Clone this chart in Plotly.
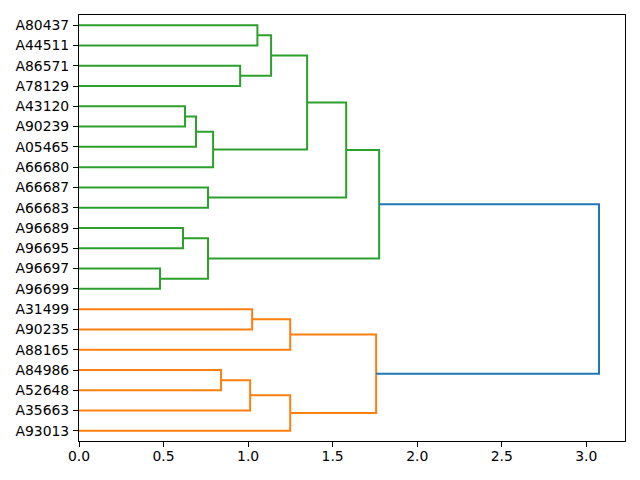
import plotly.graph_objects as go

# Leaf labels, top to bottom as shown
leaves_top_to_bottom = [
    "A80437", "A44511", "A86571", "A78129", "A43120", "A90239", "A05465",
    "A66680", "A66687", "A66683", "A96689", "A96695", "A96697", "A96699",
    "A31499", "A90235", "A88165", "A84986", "A52648", "A35663", "A93013",
]

# Merges: (left child, right child, distance, cluster)
merge_left = ["A80437", "A86571", "m1", "A43120", "m4", "m5", "m3", "A66687", "m7",
              "A96689", "A96697", "m10", "m9", "A31499", "m14", "A84986", "m16",
              "m17", "m15", "m13"]
merge_right = ["A44511", "A78129", "m2", "A90239", "A05465", "A66680", "m6", "A66683",
               "m8", "A96695", "A96699", "m11", "m12", "A90235", "A88165", "A52648",
               "A35663", "A93013", "m18", "m19"]
merge_height = [1.055, 0.953, 1.136, 0.627, 0.692, 0.793, 1.349, 0.763, 1.580,
                0.615, 0.479, 0.763, 1.775, 1.024, 1.249, 0.840, 1.012, 1.249,
                1.757, 3.075]
merge_cluster = ["g"] * 13 + ["o"] * 6 + ["root"]

colors = {"g": "#2ca02c", "o": "#ff7f0e", "root": "#1f77b4"}

n = len(leaves_top_to_bottom)
leaves_bottom_up = leaves_top_to_bottom[::-1]
pos = {name: 5 + 10 * i for i, name in enumerate(leaves_bottom_up)}
hgt = {name: 0.0 for name in leaves_bottom_up}

segs = {k: ([], []) for k in colors}
for i, (a, b, h, c) in enumerate(zip(merge_left, merge_right, merge_height, merge_cluster)):
    name = f"m{i + 1}"
    ya, yb = pos[a], pos[b]
    xs = [hgt[a], h, h, hgt[b], None]
    ys = [ya, ya, yb, yb, None]
    segs[c][0].extend(xs)
    segs[c][1].extend(ys)
    pos[name] = (ya + yb) / 2
    hgt[name] = h

fig = go.Figure()
for c in ["g", "o", "root"]:
    fig.add_trace(go.Scatter(
        x=segs[c][0], y=segs[c][1], mode="lines",
        line=dict(color=colors[c], width=2), hoverinfo="skip", showlegend=False,
    ))

xmax = max(merge_height) * 1.05
fig.update_layout(
    width=624, height=464,
    margin=dict(l=71, r=7, t=7, b=31, autoexpand=False),
    plot_bgcolor="white", paper_bgcolor="white",
    font=dict(family="DejaVu Sans", size=13.9, color="black"),
    showlegend=False,
)
fig.update_xaxes(
    range=[0, xmax], tickvals=[0, 0.5, 1.0, 1.5, 2.0, 2.5, 3.0], tickformat=".1f",
    showgrid=False, zeroline=False, showline=True, linecolor="black", linewidth=1,
    mirror=True, ticks="outside", ticklen=5, tickwidth=1, tickcolor="black",
    ticklabelstandoff=-3,
)
fig.update_yaxes(
    range=[0, 10 * n], tickvals=[pos[l] for l in leaves_bottom_up], ticktext=leaves_bottom_up,
    showgrid=False, zeroline=False, showline=True, linecolor="black", linewidth=1,
    mirror=True, ticks="outside", ticklen=5, tickwidth=1, tickcolor="black",
    ticklabelstandoff=1,
)

fig.write_html("out.html")
